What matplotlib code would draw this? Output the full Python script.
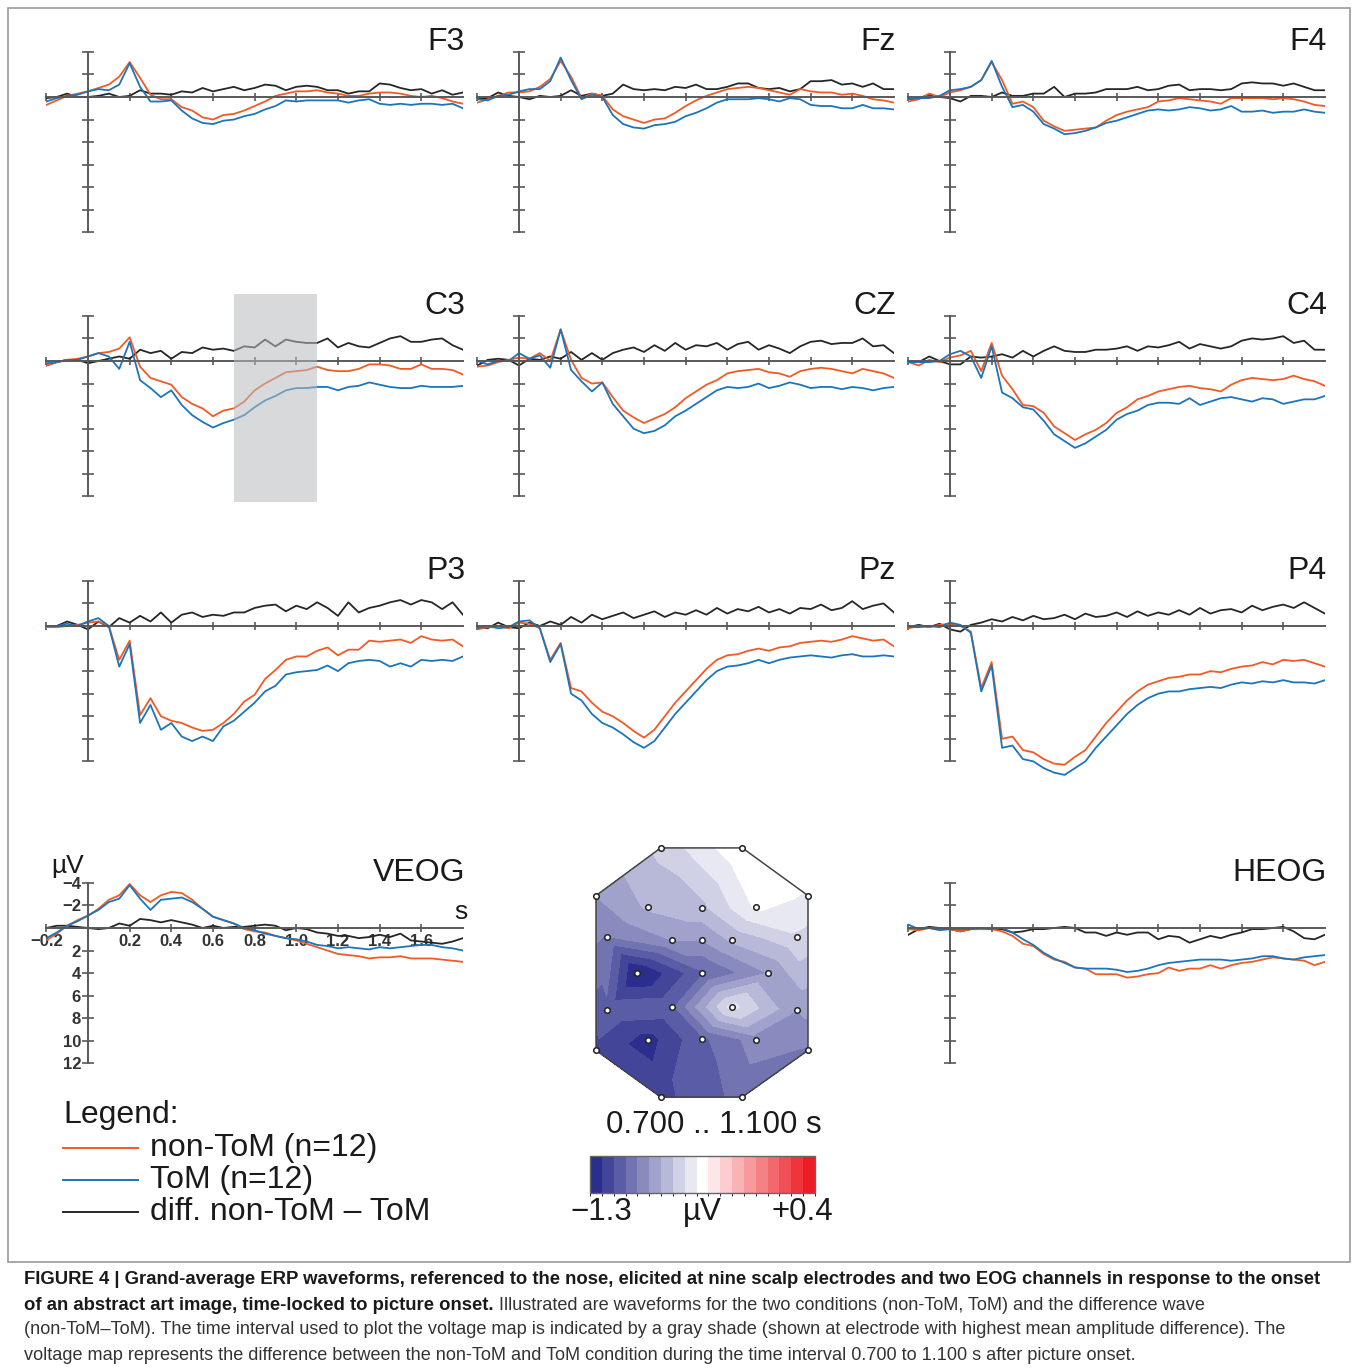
import numpy as np
import matplotlib.pyplot as plt
import matplotlib.tri as mtri
from matplotlib.colors import LinearSegmentedColormap, BoundaryNorm
from matplotlib.colorbar import ColorbarBase
from matplotlib.patches import Polygon, Rectangle
from matplotlib.lines import Line2D

plt.rcParams['font.family'] = ['Liberation Sans', 'DejaVu Sans']

# ---------------------------------------------------------------- DATA
# time axis (s) and grand-average waveforms (uV, negative up)
T = np.round(np.arange(-0.2, 1.8001, 0.05), 2)

F3_non = [0.7,0.3,-0.1,-0.3,-0.5,-0.8,-1.1,-1.8,-3.1,-1.7,-0.2,0.2,0.2,0.9,1.2,1.8,2.0,1.6,1.5,1.2,0.8,0.4,-0.1,-0.3,-0.5,-0.5,-0.6,-0.4,-0.3,-0.1,-0.1,-0.3,-0.4,-0.4,-0.3,-0.1,0.0,-0.1,0.1,0.4,0.6]
F3_tom = [0.4,0.1,-0.1,-0.2,-0.5,-0.7,-0.6,-1.1,-3.0,-0.9,0.4,0.4,0.3,1.2,1.9,2.3,2.4,2.1,2.0,1.7,1.5,1.1,0.8,0.3,0.4,0.3,0.3,0.3,0.3,0.5,0.3,0.2,0.6,0.7,0.6,0.7,0.6,0.6,0.7,0.6,1.0]
F3_dif = [0.1,0.0,-0.3,0.0,0.0,-0.1,-0.3,0.0,-0.1,-0.6,-0.3,-0.3,-0.2,-0.5,-0.4,-0.8,-0.5,-0.7,-0.9,-0.6,-0.8,-1.1,-1.0,-0.6,-0.9,-1.0,-0.9,-0.6,-0.6,-0.3,-0.5,-0.5,-1.2,-1.1,-0.8,-0.6,-0.7,-0.3,-0.6,-0.2,-0.4]

Fz_non = [0.5,0.2,-0.1,-0.4,-0.4,-0.5,-0.9,-1.6,-3.2,-1.8,0.1,-0.3,-0.1,1.1,1.7,2.0,2.3,2.0,1.9,1.4,0.8,0.3,-0.1,-0.4,-0.7,-0.8,-0.9,-0.8,-0.6,-0.4,-0.2,-0.7,-0.5,-0.4,-0.4,-0.2,-0.3,-0.1,0.2,0.3,0.5]
Fz_tom = [0.2,0.3,-0.1,-0.2,-0.5,-0.7,-0.7,-1.4,-3.5,-1.5,0.2,-0.2,0.0,1.6,2.4,2.7,2.8,2.5,2.4,2.2,1.7,1.4,1.0,0.5,0.2,0.2,0.2,0.1,0.2,0.4,0.1,0.2,0.7,0.8,0.8,1.0,1.0,0.7,1.0,1.0,1.1]
Fz_dif = [0.2,0.1,-0.4,-0.1,0.0,0.2,-0.1,0.0,-0.1,-0.6,-0.1,-0.3,-0.1,-0.3,-1.1,-0.7,-0.6,-0.7,-0.6,-0.9,-0.8,-1.1,-0.7,-0.7,-0.9,-1.2,-1.2,-0.8,-0.7,-0.8,-0.5,-0.7,-1.4,-1.4,-1.5,-1.1,-1.2,-0.9,-1.2,-0.7,-0.7]

F4_non = [0.4,0.2,-0.3,0.0,-0.4,-0.6,-0.9,-1.5,-3.1,-1.5,0.6,0.4,0.9,2.1,2.6,3.0,2.9,2.8,2.7,2.1,1.6,1.3,1.1,0.9,0.4,0.3,0.1,0.2,0.3,0.4,0.6,0.1,0.1,0.1,0.1,0.2,0.1,0.2,0.4,0.7,0.8]
F4_tom = [0.2,0.1,0.1,-0.1,-0.6,-0.7,-0.9,-1.5,-3.2,-0.9,0.9,0.7,1.3,2.4,2.8,3.3,3.2,3.0,2.7,2.3,2.1,1.8,1.5,1.2,1.1,1.2,1.1,0.9,1.0,1.2,1.1,0.8,1.3,1.3,1.2,1.4,1.3,1.3,1.1,1.3,1.4]
F4_dif = [0.2,0.1,-0.2,0.0,0.1,0.4,-0.1,-0.1,0.0,-0.4,-0.1,-0.1,-0.3,-0.3,-0.9,0.0,-0.3,-0.3,-0.4,-0.7,-0.7,-0.7,-0.9,-0.6,-0.7,-1.0,-1.1,-0.6,-0.7,-0.7,-0.6,-0.7,-1.2,-1.3,-1.2,-1.2,-1.0,-1.2,-0.9,-0.6,-0.6]

C3_non = [0.4,0.1,-0.1,-0.2,-0.4,-0.7,-0.8,-1.1,-2.1,0.5,1.5,1.8,2.1,3.2,3.8,4.2,4.9,4.4,4.2,3.6,2.6,2.0,1.5,1.0,0.9,0.8,0.5,0.8,0.9,0.9,0.7,0.3,0.3,0.4,0.7,0.7,0.3,0.7,0.7,0.8,1.2]
C3_tom = [0.2,0.1,-0.1,-0.1,-0.4,-0.7,-0.4,0.7,-1.7,1.7,2.4,3.2,2.6,3.9,4.8,5.4,5.9,5.5,5.2,4.8,4.1,3.5,3.1,2.6,2.4,2.4,2.3,2.3,2.6,2.3,2.2,1.9,2.1,2.3,2.4,2.4,2.2,2.3,2.3,2.3,2.2]
C3_dif = [0.4,0.1,-0.1,-0.1,0.2,0.0,-0.2,-0.4,-0.2,-1.0,-0.7,-0.9,-0.2,-0.8,-0.7,-1.2,-1.0,-1.1,-0.9,-1.3,-1.2,-1.9,-1.3,-1.9,-1.7,-1.6,-1.6,-2.0,-1.2,-1.6,-1.3,-1.2,-1.6,-2.0,-2.2,-1.7,-1.7,-1.9,-2.0,-1.4,-1.0]

CZ_non = [0.5,0.4,0.1,-0.1,-0.3,-0.2,-0.7,0.0,-2.8,-0.1,1.5,2.0,1.9,3.2,4.4,5.0,5.5,5.1,4.7,4.1,3.3,2.7,2.1,1.7,1.1,0.9,0.8,0.7,1.0,1.1,1.4,0.9,0.7,0.6,0.7,0.9,1.1,0.7,0.9,1.1,1.5]
CZ_tom = [0.0,0.3,0.0,0.0,-0.7,-0.2,-0.5,0.6,-2.8,0.8,1.8,2.7,1.9,3.8,4.9,6.0,6.4,6.2,5.7,4.9,4.4,3.8,3.2,2.6,2.3,2.4,2.3,2.0,2.4,2.2,1.9,2.1,2.4,2.3,2.3,2.5,2.3,2.4,2.6,2.4,2.3]
CZ_dif = [0.4,-0.1,-0.2,-0.1,0.4,-0.2,-0.1,-0.4,-0.2,-0.8,-0.1,-0.7,-0.1,-0.7,-1.0,-1.2,-0.8,-1.4,-0.9,-1.6,-1.0,-1.4,-1.3,-1.6,-1.0,-1.5,-1.7,-1.0,-1.4,-1.1,-0.7,-1.3,-1.7,-1.8,-1.5,-1.6,-1.6,-2.0,-1.3,-1.4,-0.7]

C4_non = [0.1,0.4,-0.1,0.1,-0.3,-0.5,-0.9,0.9,-1.6,1.3,2.5,3.9,4.0,4.6,5.8,6.4,7.0,6.5,6.1,5.5,4.6,4.1,3.4,3.1,2.7,2.5,2.3,2.2,2.4,2.5,2.7,2.1,1.7,1.5,1.6,1.7,1.6,1.3,1.6,1.8,2.2]
C4_tom = [0.1,0.1,0.1,0.0,-0.6,-0.9,-0.4,1.5,-1.3,2.8,3.3,4.1,4.3,5.3,6.5,7.1,7.7,7.3,6.7,6.1,5.2,4.7,4.4,3.9,3.7,3.7,3.8,3.3,3.9,3.6,3.3,3.2,3.4,3.6,3.3,3.4,3.8,3.6,3.4,3.4,3.1]
C4_dif = [0.1,0.1,-0.4,0.0,0.3,0.3,-0.4,-0.3,-0.4,-0.6,-0.3,-0.9,-0.4,-0.9,-1.3,-0.9,-0.8,-0.8,-1.0,-1.0,-1.1,-1.3,-0.9,-1.3,-1.2,-1.4,-1.7,-1.1,-1.5,-1.3,-1.1,-1.3,-1.8,-2.0,-1.9,-2.0,-2.2,-1.6,-1.8,-1.0,-1.0]

P3_non = [0.1,0.1,0.0,-0.1,-0.3,-0.4,0.0,3.0,1.3,7.9,6.4,8.0,8.4,8.6,9.0,9.3,9.2,8.6,7.8,6.7,6.1,4.7,3.9,3.0,2.7,2.7,2.2,1.9,2.6,2.1,2.1,1.3,1.4,1.3,1.2,1.5,0.9,1.2,1.3,1.2,1.8]
P3_tom = [0.0,0.0,-0.2,0.0,-0.4,-0.7,0.0,3.6,1.6,8.6,7.0,9.2,8.6,9.8,10.2,9.8,10.2,8.9,8.4,7.6,6.8,5.8,5.3,4.3,4.1,4.0,3.9,3.5,4.0,3.3,3.1,3.0,3.1,3.6,3.3,3.6,3.0,3.1,3.0,3.1,2.7]
P3_dif = [0.0,0.0,-0.4,-0.1,0.3,-0.4,0.1,-0.7,-0.3,-0.9,-0.4,-1.2,-0.3,-1.0,-1.2,-0.8,-1.0,-0.9,-1.2,-1.2,-1.6,-1.8,-1.9,-1.3,-1.8,-1.5,-2.1,-1.6,-0.9,-2.1,-1.2,-1.6,-1.8,-2.1,-2.3,-1.9,-2.3,-2.1,-1.5,-2.1,-1.0]

Pz_non = [0.3,0.1,0.0,0.2,-0.3,-0.2,0.2,3.0,1.5,5.5,5.8,6.8,7.6,8.0,8.6,9.3,9.9,9.2,8.0,6.8,5.8,4.8,3.8,3.0,2.6,2.5,2.2,2.0,2.2,1.9,1.8,1.5,1.4,1.3,1.4,1.2,0.9,1.1,1.3,1.2,1.8]
Pz_tom = [0.2,0.0,0.2,0.1,-0.4,-0.5,0.2,3.2,1.6,6.0,6.6,7.8,8.6,9.0,9.6,10.3,10.8,10.2,9.0,7.8,6.8,5.8,4.8,4.0,3.6,3.5,3.3,3.0,3.3,3.0,2.8,2.7,2.6,2.7,2.8,2.6,2.5,2.7,2.7,2.6,2.7]
Pz_dif = [0.1,0.2,-0.3,0.1,0.2,-0.3,0.0,-0.4,-0.1,-0.8,-0.3,-1.0,-0.6,-0.9,-1.2,-0.7,-1.0,-1.3,-0.8,-1.2,-1.0,-1.4,-1.0,-1.6,-1.1,-1.5,-1.3,-1.7,-1.2,-1.5,-1.1,-1.6,-1.5,-1.9,-1.4,-1.6,-2.2,-1.5,-1.8,-2.0,-1.2]

P4_non = [0.2,0.0,0.1,-0.1,-0.2,0.0,0.5,5.5,3.2,10.0,9.8,11.0,11.2,11.8,12.2,12.3,11.6,11.0,9.8,8.6,7.6,6.6,5.8,5.2,4.9,4.6,4.5,4.3,4.3,4.0,4.1,3.8,3.6,3.5,3.2,3.4,3.0,3.1,3.0,3.3,3.6]
P4_tom = [0.1,0.1,0.0,0.1,-0.3,-0.1,0.6,5.8,3.5,10.8,10.6,11.8,12.0,12.6,13.0,13.2,12.6,12.0,10.8,9.8,8.8,7.8,7.0,6.4,6.0,5.8,5.8,5.6,5.5,5.4,5.5,5.2,5.0,5.1,4.9,5.0,4.8,5.0,5.0,5.1,4.8]
P4_dif = [0.1,-0.1,0.1,-0.2,0.3,0.5,-0.1,-0.3,-0.6,-0.4,-0.8,-0.5,-0.9,-0.6,-0.7,-1.0,-0.6,-1.1,-0.8,-0.9,-1.2,-0.8,-1.3,-0.9,-1.2,-1.0,-1.4,-1.0,-1.6,-1.1,-1.4,-1.5,-1.2,-1.8,-1.4,-1.7,-1.9,-1.6,-2.1,-1.6,-1.1]

VEOG_non = [1.1,0.5,-0.2,-0.7,-1.1,-1.7,-2.5,-2.9,-3.9,-2.9,-2.3,-2.9,-3.2,-3.1,-2.5,-1.7,-1.0,-0.7,-0.4,0.1,0.3,0.4,0.7,0.9,1.1,1.4,1.7,2.0,2.3,2.4,2.5,2.7,2.6,2.6,2.5,2.7,2.7,2.7,2.8,2.9,3.0]
VEOG_tom = [0.9,0.4,-0.2,-0.6,-1.1,-1.6,-2.3,-2.6,-3.8,-2.6,-1.6,-2.5,-2.6,-2.7,-2.3,-1.7,-1.0,-0.7,-0.4,0.0,0.2,0.5,0.7,0.9,1.0,1.2,1.5,1.6,1.8,1.7,1.8,1.9,1.7,1.8,1.7,1.6,1.5,1.5,1.7,1.8,2.0]
VEOG_dif = [0.0,-0.2,-0.2,-0.1,0.0,0.1,0.0,-0.4,-0.2,-0.8,-0.7,-0.5,-0.7,-0.5,-0.3,0.0,-0.2,0.0,-0.1,-0.1,-0.2,-0.3,-0.2,0.2,0.0,0.1,0.4,0.5,0.7,0.7,0.9,0.8,0.6,0.8,0.5,1.1,1.2,1.3,1.4,1.2,0.9]

HEOG_non = [0.1,0.2,0.0,0.1,0.1,0.3,0.1,0.1,0.1,0.3,0.7,1.4,1.6,2.3,2.8,3.0,3.5,3.6,4.1,4.1,4.1,4.4,4.3,4.1,4.0,3.5,3.8,3.6,3.6,3.3,3.6,3.3,3.1,3.0,2.8,2.6,2.7,2.8,2.9,3.3,3.0]
HEOG_tom = [-0.3,0.1,0.0,0.2,0.1,0.1,0.1,0.0,0.1,0.0,0.4,1.0,1.5,2.2,2.7,3.1,3.5,3.6,3.6,3.6,3.7,3.9,3.8,3.6,3.3,3.1,3.0,2.9,2.8,2.8,2.8,2.9,2.8,2.7,2.5,2.5,2.7,2.8,2.6,2.5,2.4]
HEOG_dif = [0.6,0.1,-0.1,0.0,0.1,0.3,0.1,0.1,0.1,0.1,0.4,0.3,0.1,0.1,0.0,-0.1,0.0,0.4,0.4,0.7,0.4,0.6,0.4,0.4,1.0,0.7,0.8,1.3,1.0,0.7,0.9,0.6,0.4,0.1,0.1,0.0,-0.1,0.3,0.9,1.0,0.6]

channels = ["F3", "Fz", "F4", "C3", "CZ", "C4", "P3", "Pz", "P4", "VEOG", "HEOG"]
waves = {
    "F3": (F3_non, F3_tom, F3_dif), "Fz": (Fz_non, Fz_tom, Fz_dif), "F4": (F4_non, F4_tom, F4_dif),
    "C3": (C3_non, C3_tom, C3_dif), "CZ": (CZ_non, CZ_tom, CZ_dif), "C4": (C4_non, C4_tom, C4_dif),
    "P3": (P3_non, P3_tom, P3_dif), "Pz": (Pz_non, Pz_tom, Pz_dif), "P4": (P4_non, P4_tom, P4_dif),
    "VEOG": (VEOG_non, VEOG_tom, VEOG_dif), "HEOG": (HEOG_non, HEOG_tom, HEOG_dif),
}
shade_window = (0.7, 1.1)   # voltage map interval (s)

# voltage map: electrode layout (unit head coords) and mean difference (uV)
elec_x = [-0.39, 0.38, 1.0, 1.0, 0.38, -0.39, -1.0, -1.0,
          -0.51, 0.0, 0.51, -0.9, -0.28, 0.0, 0.28, 0.9, -0.61, 0.0, 0.62,
          -0.9, -0.28, 0.28, 0.9, -0.51, 0.0, 0.51]
elec_y = [1.18, 1.18, 0.73, -0.73, -1.17, -1.17, -0.73, 0.73,
          0.62, 0.61, 0.62, 0.34, 0.31, 0.31, 0.31, 0.34, 0.0, 0.0, 0.0,
          -0.35, -0.32, -0.32, -0.35, -0.63, -0.62, -0.63]
elec_v = [-0.65, -0.42, -0.5, -0.95, -1.0, -1.15, -1.15, -0.85,
          -0.75, -0.7, -0.48, -0.95, -0.85, -0.85, -0.75, -0.6, -1.32, -1.05, -0.85,
          -1.05, -1.05, -0.55, -0.85, -1.25, -1.05, -0.9]
map_range = (-1.3, 0.4)
n_steps = 19

legend_labels = ["non-ToM (n=12)", "ToM (n=12)", "diff. non-ToM \u2013 ToM"]
caption = [
    ("FIGURE 4 | Grand-average ERP waveforms, referenced to the nose, elicited at nine scalp electrodes and two EOG channels in response to the onset", ""),
    ("of an abstract art image, time-locked to picture onset.",
     " Illustrated are waveforms for the two conditions (non-ToM, ToM) and the difference wave"),
    ("", "(non-ToM\u2013ToM). The time interval used to plot the voltage map is indicated by a gray shade (shown at electrode with highest mean amplitude difference). The"),
    ("", "voltage map represents the difference between the non-ToM and ToM condition during the time interval 0.700 to 1.100 s after picture onset."),
]

# ---------------------------------------------------------------- STYLE
ORANGE, BLUE, BLACK, AXC = "#f15a24", "#1b75bb", "#262626", "#58595b"
W, H = 1358, 1371
PX_S, PX_UV = 208.3, 11.28          # pixels per second / per uV
col_x = [88, 519, 950]              # y-axis (t=0) positions
row_y = [97, 361, 626, 928]         # zero-line positions

fig = plt.figure(figsize=(W / 100, H / 100), dpi=100)


def px_axes(x0, y0, x1, y1):
    return fig.add_axes([x0 / W, 1 - y1 / H, (x1 - x0) / W, (y1 - y0) / H])


def erp_panel(name, xa, ya, labels=False):
    ax = px_axes(xa - 0.2 * PX_S, ya - 6 * PX_UV, xa + 1.8 * PX_S, ya + 14 * PX_UV)
    ax.set_xlim(-0.2, 1.8)
    ax.set_ylim(14, -6)
    ax.patch.set_alpha(0)
    for s in ("top", "right"):
        ax.spines[s].set_visible(False)
    ax.spines["left"].set_position(("data", 0))
    ax.spines["bottom"].set_position(("data", 0))
    ax.spines["left"].set_bounds(-4, 12)
    ax.spines["bottom"].set_bounds(-0.2, 1.8)
    for s in ("left", "bottom"):
        ax.spines[s].set_color(AXC)
        ax.spines[s].set_linewidth(1.4)
    ax.set_xticks([-0.2, 0.2, 0.4, 0.6, 0.8, 1.0, 1.2, 1.4, 1.6])
    ax.set_yticks([-4, -2, 0, 2, 4, 6, 8, 10, 12])
    ax.tick_params(axis="y", direction="inout", length=8, width=1.2, color=AXC)
    ax.tick_params(axis="x", direction="inout", length=6, width=1.2, color=AXC)
    if labels:
        ax.set_xticklabels(["\u22120.2", "0.2", "0.4", "0.6", "0.8", "1.0", "1.2", "1.4", "1.6"],
                           fontsize=12, fontweight="bold", color="#333333")
        ax.set_yticklabels(["\u22124", "\u22122", "", "2", "4", "6", "8", "10", "12"],
                           fontsize=12, fontweight="bold", color="#333333")
        ax.tick_params(axis="both", pad=1)
    else:
        ax.set_xticklabels([])
        ax.set_yticklabels([])
    non, tom, dif = waves[name]
    ax.plot(T, dif, color=BLACK, lw=1.3)
    ax.plot(T, non, color=ORANGE, lw=1.3)
    ax.plot(T, tom, color=BLUE, lw=1.3)
    ax.text(1.81, -4.9, name, ha="right", va="center", fontsize=23, color="#1a1a1a")
    return ax


for i, name in enumerate(channels[:9]):
    ax = erp_panel(name, col_x[i % 3], row_y[i // 3])
    if name == "C3":
        ax.fill_between(shade_window, -5.9, 12.5, color="#b9bbbf", alpha=0.55, lw=0, zorder=5)

erp_panel("VEOG", col_x[0], row_y[3], labels=True)
erp_panel("HEOG", col_x[2], row_y[3])
fig.text(68 / W, 1 - 866 / H, "\u00b5V", ha="center", va="center", fontsize=19, color="#1a1a1a")
fig.text(461 / W, 1 - 912 / H, "s", ha="center", va="center", fontsize=19, color="#1a1a1a")

# ---------------------------------------------------------------- VOLTAGE MAP
bounds = np.linspace(map_range[0], map_range[1], n_steps + 1)
base = LinearSegmentedColormap.from_list("bwr_bv", ["#2b2e8c", "#ffffff", "#ed1c24"])
cmap = base.resampled(n_steps)
cmap.set_under("#2b2e8c")
cmap.set_over("#ed1c24")
norm = BoundaryNorm(bounds, cmap.N)

axm = px_axes(702 - 1.15 * 106, 973 - 1.3 * 106, 702 + 1.15 * 106, 973 + 1.3 * 106)
axm.set_xlim(-1.15, 1.15)
axm.set_ylim(-1.3, 1.3)
axm.axis("off")
tri = mtri.Triangulation(elec_x, elec_y)
axm.tricontourf(tri, elec_v, levels=bounds, cmap=cmap, norm=norm, extend="both")
hull = list(zip(elec_x[:8], elec_y[:8]))
axm.add_patch(Polygon(hull, closed=True, fill=False, ec="#444444", lw=1.1, zorder=3))
axm.scatter(elec_x, elec_y, s=16, facecolor="white", edgecolor="#222222", lw=1.1, zorder=4)

fig.text(714 / W, 1 - 1125 / H, "0.700 .. 1.100 s", ha="center", va="center", fontsize=22.5, color="#1a1a1a")
cax = px_axes(590, 1156, 815, 1193)
cb = ColorbarBase(cax, cmap=cmap, norm=norm, orientation="horizontal", ticks=[])
cb.outline.set_edgecolor("#666666")
cb.outline.set_linewidth(1)
for x, s in zip([601, 702, 802], ["\u22121.3", "\u00b5V", "+0.4"]):
    fig.text(x / W, 1 - 1212 / H, s, ha="center", va="center", fontsize=22.5, color="#1a1a1a")

# ---------------------------------------------------------------- LEGEND
fig.text(63 / W, 1 - 1115 / H, "Legend:", ha="left", va="center", fontsize=23, color="#1a1a1a")
for k, (lab, c) in enumerate(zip(legend_labels, [ORANGE, BLUE, BLACK])):
    yy = 1 - (1148 + 32 * k) / H
    fig.add_artist(Line2D([63 / W, 138 / W], [yy, yy], color=c, lw=1.4))
    fig.text(150 / W, yy, lab, ha="left", va="center", fontsize=23, color="#1a1a1a")

# ---------------------------------------------------------------- FRAME + CAPTION
fig.add_artist(Rectangle((8 / W, 1 - 1262 / H), 1342 / W, 1254 / H, transform=fig.transFigure,
                         fill=False, ec="#9a9a9a", lw=1.2))

renderer = fig.canvas.get_renderer()
for k, (bold, reg) in enumerate(caption):
    yy = 1 - (1280 + 25 * k) / H
    x = 24 / W
    if bold:
        tb = fig.text(x, yy, bold, ha="left", va="center", fontsize=13.3, fontweight="bold",
                      color="#1a1a1a")
        x += tb.get_window_extent(renderer).width / W
    if reg:
        fig.text(x, yy, reg, ha="left", va="center", fontsize=13.1, color="#333333")

fig.savefig("out.png", dpi=100)
